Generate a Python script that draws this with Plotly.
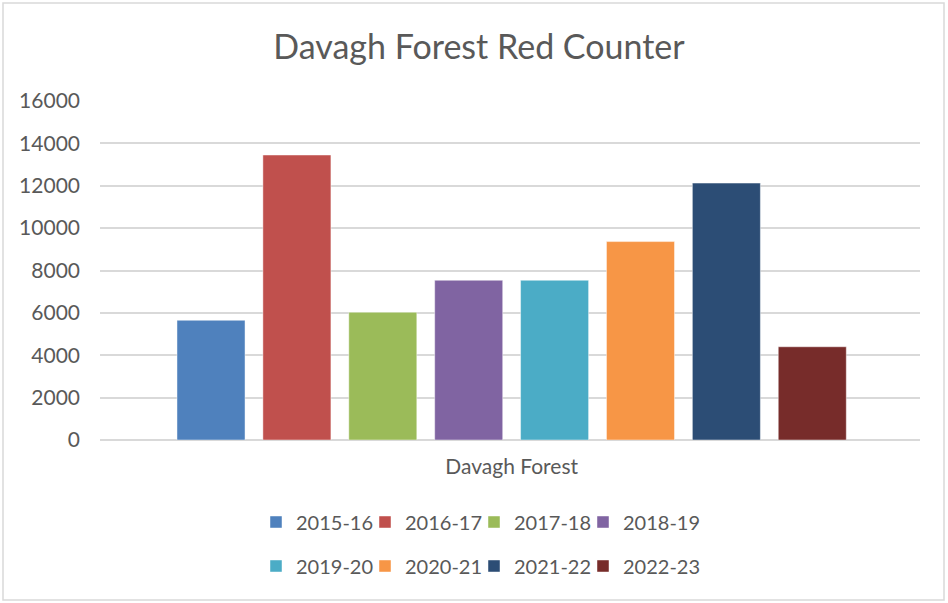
import plotly.graph_objects as go

category = ["Davagh Forest"]
seasons = ["2015-16", "2016-17", "2017-18", "2018-19", "2019-20", "2020-21", "2021-22", "2022-23"]
counts = [5650, 13450, 6030, 7540, 7540, 9365, 12125, 4400]
colors = ["#4F81BD", "#C0504D", "#9BBB59", "#8064A2", "#4BACC6", "#F79646", "#2C4D75", "#772C2A"]
y_ticks = [0, 2000, 4000, 6000, 8000, 10000, 12000, 14000, 16000]
y_tick_text = [str(v) for v in y_ticks]

FONT = "Lato"
GREY = "#595959"

fig = go.Figure()
for i, (s, v, c) in enumerate(zip(seasons, counts, colors)):
    fig.add_trace(go.Bar(
        x=category, y=[v], name=s,
        marker=dict(color=c, line=dict(color="rgba(255,255,255,0.45)", width=1)),
        legend="legend" if i < 4 else "legend2",
        legendwidth=80 if i in (3, 7) else 64,
    ))

W, H = 948, 603
L, R, T, B = 100, 28, 101, 163
ph = H - T - B
pw = W - L - R

def py(pix):
    return (H - B - pix) / ph

def px(pix):
    return (pix - L) / pw

leg_common = dict(orientation="h", x=px(482), xanchor="center", yanchor="middle",
                  font=dict(size=20, color=GREY), itemwidth=30)

fig.update_layout(
    width=W, height=H,
    margin=dict(l=L, r=R, t=T, b=B),
    paper_bgcolor="white", plot_bgcolor="white",
    barmode="group", bargap=0.162, bargroupgap=0.208,
    font=dict(family=FONT, color=GREY, size=21),
    title=dict(text="Davagh Forest Red Counter", x=px(479), xref="paper", xanchor="center",
               y=1 - 47 / H, yanchor="middle", yref="container",
               font=dict(family=FONT, size=34, color=GREY)),
    xaxis=dict(range=[-0.502, 0.498], showline=False, showgrid=False, ticks="",
               ticklabelstandoff=12, tickfont=dict(size=21, color=GREY)),
    yaxis=dict(range=[0, 16000], tickvals=y_ticks, ticktext=y_tick_text,
               showgrid=True, gridcolor="#D9D9D9", gridwidth=1.5,
               zeroline=True, zerolinecolor="#D9D9D9", zerolinewidth=1.5, showline=False,
               ticks="", ticklabelstandoff=19, tickfont=dict(size=21, color=GREY)),
    legend=dict(y=py(522), **leg_common),
    legend2=dict(y=py(566), **leg_common),
    shapes=[dict(type="rect", xref="paper", yref="paper",
                 x0=px(3), x1=px(944), y0=py(600), y1=py(3),
                 line=dict(color="#D9D9D9", width=1.5), fillcolor="rgba(0,0,0,0)", layer="below")],
)

fig.write_html("out.html", config={"displayModeBar": False},
               post_script="document.body.style.margin='0px';")
